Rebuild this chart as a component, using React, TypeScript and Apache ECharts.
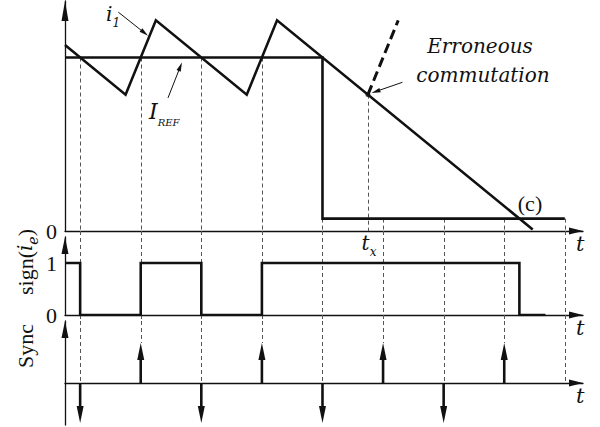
import React, { useEffect, useRef } from "react";
import * as echarts from "echarts";

const SERIF = "'Liberation Serif', 'Times New Roman', serif";
const ITALIC = "'DejaVu Serif', serif";
const INK = "#111";
const DASH = "#555";

// Phase current i1 (time, current)
const I1_T = [0, 1, 1.5, 3, 3.5, 7.72];
const I1_V = [7.5, 5.5, 8.5, 5.5, 8.5, 0.06];
// Reference current: I_REF, then stepped down to the low level
const IREF_T = [0, 4.25, 4.25, 8.25];
const IREF_V = [7, 7, 0.5, 0.5];
// sign(i_e) logic signal
const SIGN_T = [0, 0.25, 0.25, 1.25, 1.25, 2.25, 2.25, 3.25, 3.25, 7.5, 7.5, 7.93];
const SIGN_V = [1, 1, 0, 0, 1, 1, 0, 0, 1, 1, 0, 0];
// Sync instants and pulse direction (+1 up, -1 down, 0 none)
const SYNC_T = [0.25, 1.25, 2.25, 3.25, 4.25, 5.25, 6.25, 7.25, 8.25];
const SYNC_P = [-1, 1, -1, 1, -1, 1, -1, 1, 0];
// Erroneous commutation instant t_x on i1, and the wrong branch end
const TX = 5;
const TX_V = 5.5;
const ERR_END_T = 5.5;
const ERR_END_V = 8.5;

const X_MAX = 8.55;
const LEFT = 65;
const RIGHT = 17;
const PANELS = [
  { top: 1, bottom: 231, min: 0, max: 9.28 },
  { top: 237, bottom: 315, min: 0, max: 1.5 },
  { top: 321, bottom: 425, min: -1.05, max: 1.55 },
];

const valueAtPx = (p: { top: number; bottom: number; min: number; max: number }, y: number) =>
  p.max - ((y - p.top) / (p.bottom - p.top)) * (p.max - p.min);

const zip = (a: number[], b: number[]) => a.map((v, i) => [v, b[i]]);

const refLevelAt = (t: number) => {
  let v = IREF_V[0];
  for (let i = 0; i < IREF_T.length; i++) if (IREF_T[i] <= t) v = IREF_V[i];
  return v;
};

const axisLine = (len: number) => ({
  show: true,
  onZero: true,
  symbol: ["none", "triangle"],
  symbolSize: [7, len],
  symbolOffset: [0, -len / 2],
  lineStyle: { color: INK, width: 1.3 },
});

const vDash = (_: any, api: any) => {
  const a = api.coord([api.value(0), api.value(1)]);
  const b = api.coord([api.value(0), api.value(2)]);
  const x = Math.round(a[0]) + 0.5;
  return {
    type: "line",
    silent: true,
    shape: { x1: x, y1: a[1], x2: x, y2: b[1] },
    style: { stroke: DASH, lineWidth: 1, lineDash: [4, 3] },
  };
};

const arrowItem = (shaft: number, headLen: number, headW: number) => (_: any, api: any) => {
  const a = api.coord([api.value(0), api.value(1)]);
  const b = api.coord([api.value(2), api.value(3)]);
  const dx = b[0] - a[0];
  const dy = b[1] - a[1];
  const len = Math.hypot(dx, dy) || 1;
  const ux = dx / len;
  const uy = dy / len;
  const bx = b[0] - ux * headLen;
  const by = b[1] - uy * headLen;
  const px = (-uy * headW) / 2;
  const py = (ux * headW) / 2;
  return {
    type: "group",
    silent: true,
    children: [
      {
        type: "line",
        shape: { x1: a[0], y1: a[1], x2: bx + ux, y2: by + uy },
        style: { stroke: INK, lineWidth: shaft },
      },
      {
        type: "polygon",
        shape: { points: [[b[0], b[1]], [bx + px, by + py], [bx - px, by - py]] },
        style: { fill: INK },
      },
    ],
  };
};

const rich = (main: number, sub: number, mainItalic: boolean) => ({
  m: {
    fontFamily: mainItalic ? ITALIC : SERIF,
    fontSize: main,
    fontStyle: mainItalic ? "italic" : "normal",
    lineHeight: main + 8,
    fill: INK,
  },
  i: { fontFamily: ITALIC, fontSize: main - 2, fontStyle: "italic", lineHeight: main + 8, fill: INK },
  s: { fontFamily: ITALIC, fontSize: sub, fontStyle: "italic", lineHeight: sub, verticalAlign: "bottom", fill: INK },
});

export default function App() {
  const ref = useRef<HTMLDivElement>(null);

  useEffect(() => {
    if (!ref.current) return;
    const chart = echarts.init(ref.current, undefined, { renderer: "svg" });
    const [P0, P1, P2] = PANELS;

    const option: any = {
      animation: false,
      backgroundColor: "#fff",
      grid: PANELS.map((p) => ({ left: LEFT, right: RIGHT, top: p.top, height: p.bottom - p.top })),
      xAxis: PANELS.map((_, i) => ({
        type: "value",
        gridIndex: i,
        min: 0,
        max: X_MAX,
        axisLine: axisLine(14),
        axisTick: { show: false },
        axisLabel: { show: false },
        splitLine: { show: false },
        name: "t",
        nameLocation: "end",
        nameGap: -7,
        nameTextStyle: {
          fontFamily: ITALIC,
          fontStyle: "italic",
          fontSize: 21,
          color: INK,
          verticalAlign: "top",
          padding: [2, 0, 0, 0],
        },
      })),
      yAxis: [
        {
          type: "value",
          gridIndex: 0,
          min: P0.min,
          max: P0.max,
          interval: 1,
          axisLine: axisLine(20),
          axisTick: { show: false },
          splitLine: { show: false },
          axisLabel: {
            formatter: (v: number) => (v === 0 ? "0" : ""),
            fontFamily: SERIF,
            fontSize: 22,
            color: INK,
            margin: 8,
          },
        },
        {
          type: "value",
          gridIndex: 1,
          min: P1.min,
          max: P1.max,
          interval: 1,
          axisLine: axisLine(17),
          axisTick: { show: false },
          splitLine: { show: false },
          axisLabel: {
            formatter: (v: number) => (v === 0 || v === 1 ? String(v) : ""),
            fontFamily: SERIF,
            fontSize: 22,
            color: INK,
            margin: 8,
          },
        },
        {
          type: "value",
          gridIndex: 2,
          min: P2.min,
          max: P2.max,
          axisLine: axisLine(17),
          axisTick: { show: false },
          splitLine: { show: false },
          axisLabel: { show: false },
        },
      ],
      series: [
        // dashed timing guides
        {
          type: "custom",
          xAxisIndex: 0,
          yAxisIndex: 0,
          renderItem: vDash,
          encode: { x: 0, y: [1, 2] },
          data: [...SYNC_T.map((t) => [t, refLevelAt(t), 0]), [TX, TX_V, 0]],
          z: 1,
        },
        {
          type: "custom",
          xAxisIndex: 1,
          yAxisIndex: 1,
          renderItem: vDash,
          encode: { x: 0, y: [1, 2] },
          data: SYNC_T.map((t) => [t, valueAtPx(P1, P0.bottom), valueAtPx(P1, P2.top)]),
          z: 1,
        },
        {
          type: "custom",
          xAxisIndex: 2,
          yAxisIndex: 2,
          renderItem: vDash,
          encode: { x: 0, y: [1, 2] },
          data: SYNC_T.map((t, i) => [t, P2.max, Math.max(SYNC_P[i], 0)]),
          z: 1,
        },
        // currents
        {
          type: "line",
          name: "IREF",
          xAxisIndex: 0,
          yAxisIndex: 0,
          data: zip(IREF_T, IREF_V),
          showSymbol: false,
          lineStyle: { color: INK, width: 2.6, join: "miter" },
          z: 3,
        },
        {
          type: "line",
          name: "i1",
          xAxisIndex: 0,
          yAxisIndex: 0,
          data: zip(I1_T, I1_V),
          showSymbol: false,
          lineStyle: { color: INK, width: 2.6, join: "miter" },
          z: 3,
        },
        {
          type: "line",
          name: "erroneous",
          xAxisIndex: 0,
          yAxisIndex: 0,
          data: [
            [TX, TX_V],
            [ERR_END_T, ERR_END_V],
          ],
          showSymbol: false,
          lineStyle: { color: INK, width: 3, type: [10, 5] },
          z: 3,
        },
        {
          type: "scatter",
          xAxisIndex: 0,
          yAxisIndex: 0,
          data: [[TX, TX_V]],
          symbolSize: 5,
          itemStyle: { color: INK },
          z: 4,
        },
        // annotation arrows
        {
          type: "custom",
          xAxisIndex: 0,
          yAxisIndex: 0,
          renderItem: arrowItem(1, 9, 4.5),
          encode: { x: [0, 2], y: [1, 3] },
          data: [
            [0.88, 8.83, 1.37, 7.88],
            [1.7, 5.37, 1.93, 6.8],
            [5.57, 6.0, 5.06, 5.57],
          ],
          z: 5,
        },
        // sign(i_e)
        {
          type: "line",
          name: "sign",
          xAxisIndex: 1,
          yAxisIndex: 1,
          data: zip(SIGN_T, SIGN_V),
          showSymbol: false,
          lineStyle: { color: INK, width: 2.6, join: "miter" },
          z: 3,
        },
        // sync pulses
        {
          type: "custom",
          xAxisIndex: 2,
          yAxisIndex: 2,
          renderItem: arrowItem(2.6, 17, 7),
          encode: { x: [0, 2], y: [1, 3] },
          data: SYNC_T.map((t, i) => [t, 0, t, SYNC_P[i]]).filter((d) => d[3] !== 0),
          z: 4,
        },
      ],
      graphic: [
        {
          type: "text",
          x: 480,
          y: 46,
          style: { text: "Erroneous", font: `italic 20px ${ITALIC}`, fill: INK, align: "center", verticalAlign: "middle" },
        },
        {
          type: "text",
          x: 483,
          y: 75,
          style: { text: "commutation", font: `italic 20px ${ITALIC}`, fill: INK, align: "center", verticalAlign: "middle" },
        },
        {
          type: "text",
          x: 530,
          y: 203,
          style: { text: "(c)", font: `22px ${SERIF}`, fill: INK, align: "center", verticalAlign: "middle" },
        },
        {
          type: "text",
          x: 106,
          y: 14,
          style: { text: "{i|i}{s|1}", rich: rich(22, 12, true), align: "left", verticalAlign: "middle" },
        },
        {
          type: "text",
          x: 149,
          y: 111,
          style: { text: "{i|I}{s|REF}", rich: rich(24, 10, true), align: "left", verticalAlign: "middle" },
        },
        {
          type: "text",
          x: 369,
          y: 243,
          style: { text: "{i|t}{s|x}", rich: rich(22, 12, true), align: "center", verticalAlign: "middle" },
        },
        {
          type: "text",
          x: 25,
          y: 262,
          rotation: Math.PI / 2,
          style: {
            text: "{m|sign(}{i|i}{s|e}{m|)}",
            rich: rich(22, 14, false),
            align: "center",
            verticalAlign: "middle",
          },
        },
        {
          type: "text",
          x: 25,
          y: 346,
          rotation: Math.PI / 2,
          style: { text: "Sync", font: `22px ${SERIF}`, fill: INK, align: "center", verticalAlign: "middle" },
        },
      ],
    };

    chart.setOption(option);
    return () => chart.dispose();
  }, []);

  return <div ref={ref} style={{ width: 600, height: 427, position: "absolute", left: 0, top: 0 }} />;
}
